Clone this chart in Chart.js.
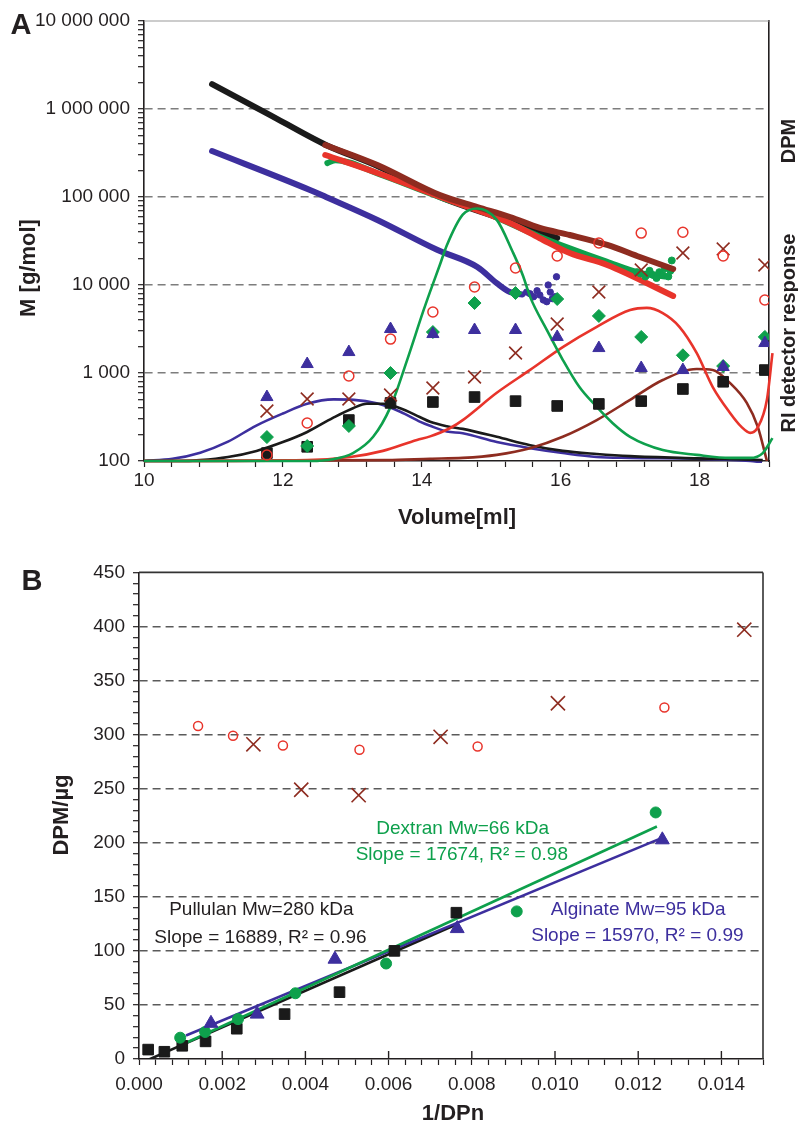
<!DOCTYPE html>
<html><head><meta charset="utf-8">
<script src="https://cdn.jsdelivr.net/npm/chart.js@4.4.0/dist/chart.umd.min.js"></script>
<style>
html,body{margin:0;padding:0;background:#fff;}
#wrap{position:relative;width:798px;height:1127px;overflow:hidden;}
#ca{position:absolute;left:0;top:0;width:798px;height:560px;}
#cb{position:absolute;left:0;top:553px;width:798px;height:574px;}
</style></head><body>
<div id="wrap"><canvas id="ca" width="798" height="560"></canvas><canvas id="cb" width="798" height="574"></canvas></div>
<script>
Chart.defaults.font.family = "'Liberation Sans', Arial, Helvetica, sans-serif";
Chart.defaults.color = '#231f20';
const FONT = "'Liberation Sans', Arial, Helvetica, sans-serif";
const COL = {black:'#1a1a1a', red:'#e8342b', brown:'#8e2c20', green:'#0ea04c', blue:'#3d2f9e'};

// ---------------- Panel A data ----------------
const massDecades = [100, 1000, 10000, 100000, 1000000, 10000000];
const minorSteps = [1, 2, 3, 4, 5, 6, 7, 8, 9];
const volumeLabels = [10, 12, 14, 16, 18];

// DPM of collected fractions
const fractionVolume = [11.77, 12.35, 12.95, 13.55, 14.16, 14.76, 15.35, 15.95, 16.55, 17.16, 17.76, 18.34, 18.94];
const dpmAlginate = [533, 1264, 1730, 3160, 2770, 3080, 3080, 2570, 1920, 1140, 1080, 1170, 2190];
const dpmDextran  = [187, 148, 250, 1000, 2920, 6240, 8100, 6930, 4450, 2570, 1590, 1200, 2570];
const dpmPullulan = [123, 145, 292, 457, 468, 533, 479, 422, 445, 479, 658, 795, 1080];
const dpmRed      = [117, 270, 925, 2430, 4930, 9490, 15600, 21400, 30000, 38900, 39800, 21400, 6760];
const dpmBrown    = [370, 507, 507, 562, 676, 900, 1690, 3600, 8320, 14800, 23100, 25700, 16900];

// Molar mass traces
const mmPullulanV = [10.98, 11.77, 12.62, 13.36, 14.26, 15.0, 15.5, 15.95];
const mmPullulan  = [1920000, 894000, 390000, 225000, 100000, 62000, 45000, 34200];
const mmAlginateV = [10.98, 12.39, 12.62, 13.36, 14.22, 14.80, 15.08, 15.27, 15.45];
const mmAlginate  = [333000, 120000, 100000, 54800, 25100, 16000, 10500, 8300, 7800];
const mmAlginateTailV = [15.51, 15.56, 15.61, 15.70, 15.75, 15.80, 15.82, 15.85, 15.92, 15.94, 15.88, 15.66];
const mmAlginateTail  = [8300, 7940, 7360, 7690, 6760, 6460, 10000, 8300, 7360, 12400, 7000, 8600];
const mmDextranV = [12.64, 12.76, 13.4, 14.3, 14.8, 15.7, 16.13, 16.66, 17.14, 17.5];
const mmDextran  = [243000, 262000, 180000, 97000, 72000, 35400, 26100, 18400, 13700, 12500];
const mmDextranTailV = [17.10, 17.15, 17.22, 17.28, 17.33, 17.38, 17.42, 17.47, 17.50, 17.55, 17.58, 17.60];
const mmDextranTail  = [14000, 13500, 12500, 14500, 13000, 12000, 14000, 13000, 15500, 12500, 14500, 19000];
const mmRedV = [12.61, 13.36, 14.31, 15.27, 15.70, 16.13, 16.67, 17.62];
const mmRed  = [300000, 187500, 97500, 50700, 34000, 23100, 16900, 7500];
const mmBrownV = [12.61, 13.36, 14.26, 14.80, 15.27, 15.70, 16.13, 16.67, 17.14, 17.62];
const mmBrown  = [390000, 231000, 105000, 76900, 59300, 44500, 37000, 28500, 20800, 15200];

// RI detector response (relative units)
const riAlginateV = [10.0, 10.41, 10.81, 11.21, 11.61, 12.0, 12.35, 12.73, 13.02, 13.35, 13.69, 13.98, 14.12, 14.36, 14.59, 15.08, 15.56, 16.03, 16.52, 17.0, 17.96, 18.73, 18.9];
const riAlginate  = [0, 0.5, 1.9, 4.4, 8.0, 10.8, 13.0, 14.0, 13.9, 13.1, 11.2, 8.9, 8.0, 6.7, 6.3, 4.3, 2.9, 1.8, 0.9, 0.7, 0.5, 0, -0.3];
const riPullulanV = [10.0, 10.5, 10.81, 11.21, 11.62, 12.0, 12.35, 12.72, 13.01, 13.21, 13.44, 13.69, 13.97, 14.12, 14.36, 14.59, 15.08, 15.56, 16.03, 16.52, 17.0, 17.96, 18.91];
const riPullulan  = [0, 0, 0.2, 0.9, 2.3, 4.3, 6.6, 9.8, 12.0, 13.0, 13.0, 12.0, 10.0, 8.9, 7.9, 7.3, 5.5, 3.6, 2.3, 1.6, 1.1, 0.6, 0.2];
const riDextranV = [10.0, 12.4, 12.72, 13.01, 13.30, 13.55, 13.79, 14.02, 14.12, 14.27, 14.36, 14.59, 14.80, 15.08, 15.31, 15.46, 15.56, 15.80, 16.03, 16.27, 16.52, 16.75, 17.0, 17.47, 17.96, 18.44, 18.73, 18.91, 19.05];
const riDextran  = [0, 0, 0.4, 1.8, 5.5, 12.3, 23.0, 34.0, 38.5, 45.0, 49.0, 56.0, 57.4, 54.8, 47.5, 42.0, 37.3, 29.8, 23.0, 16.8, 12.3, 8.6, 5.5, 2.5, 1.4, 0.7, 0.7, 1.8, 5.2];
const riRedV = [10.0, 12.35, 12.97, 13.44, 13.93, 14.12, 14.41, 14.59, 15.08, 15.56, 16.03, 16.52, 17.0, 17.24, 17.47, 17.71, 17.96, 18.19, 18.44, 18.6, 18.73, 18.84, 18.97, 19.05];
const riRed  = [0, 0.2, 0.9, 2.3, 4.8, 5.6, 7.5, 9.3, 15.5, 20.7, 25.9, 30.5, 34.3, 34.8, 33.6, 30.5, 24.5, 16.8, 10.9, 7.8, 6.4, 7.7, 13.9, 24.5];
const riBrownV = [10.0, 13.5, 14.12, 14.59, 15.08, 15.56, 16.03, 16.52, 17.0, 17.47, 17.96, 18.19, 18.44, 18.68, 18.84, 18.97];
const riBrown  = [0, 0.2, 0.5, 0.7, 1.4, 2.9, 5.5, 9.3, 13.9, 18.4, 20.9, 20.7, 17.7, 13.2, 7.7, 0];

// ---------------- Panel B data ----------------
const invDPnPullulan = [0.00022, 0.00061, 0.00104, 0.0016, 0.00235, 0.0035, 0.00482, 0.00614, 0.00763];
const dpmUgPullulan  = [8.7, 6.7, 12.2, 16.3, 28, 41.5, 61.8, 100, 135.3];
const invDPnDextran = [0.00099, 0.00159, 0.00238, 0.00376, 0.00594, 0.00908, 0.01242];
const dpmUgDextran  = [19.7, 25, 36.9, 60.8, 88.3, 136.5, 228];
const invDPnAlginate = [0.00173, 0.00284, 0.00471, 0.00765, 0.01258];
const dpmUgAlginate  = [33, 41.5, 92.3, 120.6, 202.7];
const invDPnRed = [0.00142, 0.00226, 0.00346, 0.0053, 0.00814, 0.01263];
const dpmUgRed  = [308, 299, 290, 286, 289, 325];
const invDPnBrown = [0.00275, 0.0039, 0.00528, 0.00725, 0.01007, 0.01455];
const dpmUgBrown  = [291, 249, 244, 298, 329, 397];
// fitted lines (end points)
const fitPullulanX = [0.0002, 0.0076];  const fitPullulanY = [-1.1, 123.9];
const fitDextranX  = [0.00099, 0.01245]; const fitDextranY  = [12.5, 215];
const fitAlginateX = [0.00113, 0.0126];  const fitAlginateY = [21.8, 205];
const dpmLabels = [0, 50, 100, 150, 200, 250, 300, 350, 400, 450];
const invLabels = [0, 0.002, 0.004, 0.006, 0.008, 0.010, 0.012, 0.014];

// ---------------- helpers ----------------
function xy(xs, ys) { return xs.map((x, i) => ({x: x, y: ys[i]})); }
function isPow10(v) { const l = Math.log10(v); return Math.abs(l - Math.round(l)) < 1e-9; }
function spaced(v) { return String(Math.round(v)).replace(/\B(?=(\d{3})+(?!\d))/g, ' '); }
const logTicks = [];
massDecades.forEach((d, i) => {
  if (i === massDecades.length - 1) { logTicks.push(d); return; }
  minorSteps.forEach(s => logTicks.push(d * s));
});

function overlay(items, frame, inwardTicks) {
  return {
    id: 'overlay',
    afterDraw(chart) {
      const ctx = chart.ctx, a = chart.chartArea;
      ctx.save();
      (frame || []).forEach(f => {
        ctx.strokeStyle = f.color; ctx.lineWidth = f.width; ctx.setLineDash([]);
        ctx.beginPath();
        if (f.side === 'top') { ctx.moveTo(a.left, a.top); ctx.lineTo(a.right, a.top); }
        if (f.side === 'right') { ctx.moveTo(a.right, a.top); ctx.lineTo(a.right, a.bottom); }
        ctx.stroke();
      });
      if (inwardTicks) {
        ctx.strokeStyle = '#231f20'; ctx.lineWidth = 1.4; ctx.setLineDash([]);
        inwardTicks.forEach(v => {
          const px = chart.scales.x.getPixelForValue(v);
          ctx.beginPath(); ctx.moveTo(px, a.bottom); ctx.lineTo(px, a.bottom - 8); ctx.stroke();
        });
      }
      items.forEach(t => {
        let x = t.x, y = t.y;
        if (t.data) { x = chart.scales.x.getPixelForValue(t.data[0]); y = chart.scales.y.getPixelForValue(t.data[1]); }
        ctx.save();
        ctx.font = t.font; ctx.fillStyle = t.color || '#231f20';
        ctx.textAlign = 'center'; ctx.textBaseline = 'middle';
        ctx.translate(x, y);
        if (t.rot) ctx.rotate(t.rot);
        ctx.fillText(t.text, 0, 0);
        ctx.restore();
      });
      ctx.restore();
    }
  };
}

// ---------------- Chart A ----------------
function mmLine(xs, ys, color, order) {
  return {data: xy(xs, ys), yAxisID: 'y', showLine: true, borderColor: color, backgroundColor: color,
    borderWidth: 6, pointRadius: 0, tension: 0.3, cubicInterpolationMode: 'monotone',
    borderCapStyle: 'round', borderJoinStyle: 'round', order: order};
}
function riLine(xs, ys, color, order) {
  return {data: xy(xs, ys), yAxisID: 'yRI', showLine: true, borderColor: color, backgroundColor: color,
    borderWidth: 2.6, pointRadius: 0, cubicInterpolationMode: 'monotone', order: order,
    clip: {left: 0, top: 0, right: 8, bottom: 2}};
}
function marker(xs, ys, axis, style, radius, color, fill, order, bw) {
  return {data: xy(xs, ys), yAxisID: axis, showLine: false, pointStyle: style, pointRadius: radius,
    pointBackgroundColor: fill ? color : 'rgba(0,0,0,0)', pointBorderColor: color, pointBorderWidth: bw || 1,
    borderColor: color, backgroundColor: color, order: order};
}

const datasetsA = [
  marker(fractionVolume, dpmRed, 'yDPM', 'circle', 5, COL.red, false, 1, 1.5),
  marker(fractionVolume, dpmBrown, 'yDPM', 'crossRot', 9, COL.brown, false, 2, 1.6),
  marker(fractionVolume, dpmAlginate, 'yDPM', 'triangle', 7, COL.blue, true, 3),
  marker(fractionVolume, dpmDextran, 'yDPM', 'rectRot', 6.5, COL.green, true, 4),
  marker(fractionVolume, dpmPullulan, 'yDPM', 'rect', 7.5, COL.black, true, 5),
  riLine(riDextranV, riDextran, COL.green, 10),
  riLine(riRedV, riRed, COL.red, 11),
  riLine(riBrownV, riBrown, COL.brown, 12),
  riLine(riPullulanV, riPullulan, COL.black, 13),
  riLine(riAlginateV, riAlginate, COL.blue, 14),
  mmLine(mmBrownV, mmBrown, COL.brown, 20),
  marker(mmDextranTailV, mmDextranTail, 'y', 'circle', 3.5, COL.green, true, 21),
  mmLine(mmRedV, mmRed, COL.red, 22),
  mmLine(mmDextranV, mmDextran, COL.green, 23),
  mmLine(mmPullulanV, mmPullulan, COL.black, 24),
  marker(mmAlginateTailV, mmAlginateTail, 'y', 'circle', 3.2, COL.blue, true, 25),
  mmLine(mmAlginateV, mmAlginate, COL.blue, 26)
];

const itemsA = [
  {text: 'A', x: 21, y: 26, font: 'bold 29px ' + FONT},
  {text: 'M [g/mol]', x: 29, y: 268, rot: -Math.PI / 2, font: 'bold 22px ' + FONT},
  {text: 'Volume[ml]', x: 457, y: 518, font: 'bold 22px ' + FONT},
  {text: 'DPM', x: 789, y: 141, rot: -Math.PI / 2, font: 'bold 20px ' + FONT},
  {text: 'RI detector response', x: 789, y: 333, rot: -Math.PI / 2, font: 'bold 20px ' + FONT}
];

new Chart(document.getElementById('ca'), {
  type: 'scatter',
  data: {datasets: datasetsA},
  options: {
    responsive: false, animation: false, devicePixelRatio: 1, events: [],
    layout: {padding: {top: 21, right: 0, left: 0, bottom: 0}},
    plugins: {legend: {display: false}, tooltip: {enabled: false}},
    scales: {
      x: {type: 'linear', position: 'bottom', min: 10, max: 19,
        afterFit(s) { s.height = 99; },
        ticks: {stepSize: 0.4, autoSkip: false, maxRotation: 0, padding: 2, font: {size: 19}, color: '#231f20',
          callback(v) { const r = Math.round(v); return (Math.abs(v - r) < 1e-6 && volumeLabels.includes(r)) ? String(r) : ''; }},
        grid: {drawOnChartArea: false, drawTicks: true, tickLength: 6, tickColor: '#231f20', tickWidth: 1.2},
        border: {color: '#231f20', width: 1.6}},
      y: {type: 'logarithmic', position: 'left', min: 100, max: 10000000,
        afterFit(s) { s.width = 144; },
        afterBuildTicks(s) { s.ticks = logTicks.map(v => ({value: v})); },
        ticks: {autoSkip: false, padding: 8, font: {size: 19}, color: '#231f20',
          callback(v) { return massDecades.includes(v) ? spaced(v) : ''; }},
        grid: {drawOnChartArea: true, drawTicks: true, tickLength: 6, tickColor: '#231f20', tickWidth: 1.2,
          lineWidth: 1.4, tickBorderDash: [],
          color(c) { const v = c.tick && c.tick.value; return (v && isPow10(v) && v > 100 && v < 10000000) ? '#7d7d7d' : 'rgba(0,0,0,0)'; }},
        border: {color: '#231f20', width: 1.6, dash: [8, 5]}},
      yDPM: {type: 'logarithmic', min: 100, max: 10000000, display: false},
      yRI: {type: 'linear', position: 'right', min: 0, max: 100,
        afterFit(s) { s.width = 29; },
        ticks: {display: false},
        grid: {drawOnChartArea: false, drawTicks: false},
        border: {color: '#231f20', width: 1.6}}
    }
  },
  plugins: [overlay(itemsA, [{side: 'top', color: '#9a9a9a', width: 1.2}])]
});

// ---------------- Chart B ----------------
function fitLine(xs, ys, color, order) {
  return {data: xy(xs, ys), showLine: true, borderColor: color, backgroundColor: color, borderWidth: 2.6,
    pointRadius: 0, order: order};
}
const datasetsB = [
  marker(invDPnRed, dpmUgRed, 'y', 'circle', 4.5, COL.red, false, 1, 1.5),
  marker(invDPnBrown, dpmUgBrown, 'y', 'crossRot', 10, COL.brown, false, 2, 1.6),
  marker(invDPnAlginate, dpmUgAlginate, 'y', 'triangle', 8, COL.blue, true, 3),
  marker(invDPnDextran, dpmUgDextran, 'y', 'circle', 5.5, COL.green, true, 4),
  marker(invDPnPullulan, dpmUgPullulan, 'y', 'rect', 7.5, COL.black, true, 5),
  fitLine(fitDextranX, fitDextranY, COL.green, 10),
  fitLine(fitAlginateX, fitAlginateY, COL.blue, 11),
  fitLine(fitPullulanX, fitPullulanY, COL.black, 12)
];
const annFont = '19px ' + FONT;
const itemsB = [
  {text: 'B', x: 32, y: 29, font: 'bold 29px ' + FONT},
  {text: 'DPM/\u00b5g', x: 62, y: 262, rot: -Math.PI / 2, font: 'bold 22px ' + FONT},
  {text: '1/DPn', x: 453, y: 561, font: 'bold 22px ' + FONT},
  {text: 'Dextran Mw=66 kDa', data: [0.00778, 213], color: COL.green, font: annFont},
  {text: 'Slope = 17674, R\u00b2 = 0.98', data: [0.00776, 189], color: COL.green, font: annFont},
  {text: 'Pullulan Mw=280 kDa', data: [0.00294, 138.4], color: '#231f20', font: annFont},
  {text: 'Slope = 16889, R\u00b2 = 0.96', data: [0.00292, 112.5], color: '#231f20', font: annFont},
  {text: 'Alginate Mw=95 kDa', data: [0.0120, 138.4], color: COL.blue, font: annFont},
  {text: 'Slope = 15970, R\u00b2 = 0.99', data: [0.01198, 114.3], color: COL.blue, font: annFont}
];

new Chart(document.getElementById('cb'), {
  type: 'scatter',
  data: {datasets: datasetsB},
  options: {
    responsive: false, animation: false, devicePixelRatio: 1, events: [],
    layout: {padding: {top: 0, right: 35, left: 0, bottom: 0}},
    plugins: {legend: {display: false}, tooltip: {enabled: false}},
    scales: {
      x: {type: 'linear', position: 'bottom', min: 0, max: 0.015,
        afterFit(s) { s.height = 68; },
        ticks: {stepSize: 0.0004, autoSkip: false, maxRotation: 0, padding: 8, font: {size: 19}, color: '#231f20',
          callback(v) { const hit = invLabels.find(l => Math.abs(l - v) < 1e-7); return hit !== undefined ? hit.toFixed(3) : ''; }},
        grid: {drawOnChartArea: false, drawTicks: true, tickLength: 6, tickColor: '#231f20', tickWidth: 1.2},
        border: {color: '#231f20', width: 1.6}},
      y: {type: 'linear', position: 'left', min: 0, max: 450,
        afterFit(s) { s.width = 139; },
        ticks: {stepSize: 10, autoSkip: false, padding: 8, font: {size: 19}, color: '#231f20',
          callback(v) { return dpmLabels.includes(v) ? String(v) : ''; }},
        grid: {drawOnChartArea: true, drawTicks: true, tickLength: 6, tickColor: '#231f20', tickWidth: 1.2,
          lineWidth: 1.4, tickBorderDash: [],
          color(c) { const v = c.tick && c.tick.value; return (v && dpmLabels.includes(v) && v > 0 && v < 450) ? '#5a5a5a' : 'rgba(0,0,0,0)'; }},
        border: {color: '#231f20', width: 1.6, dash: [8, 5]}}
    }
  },
  plugins: [overlay(itemsB, [{side: 'top', color: '#333333', width: 1.6}, {side: 'right', color: '#333333', width: 1.6}], invLabels.slice(1))]
});
</script></body></html>
